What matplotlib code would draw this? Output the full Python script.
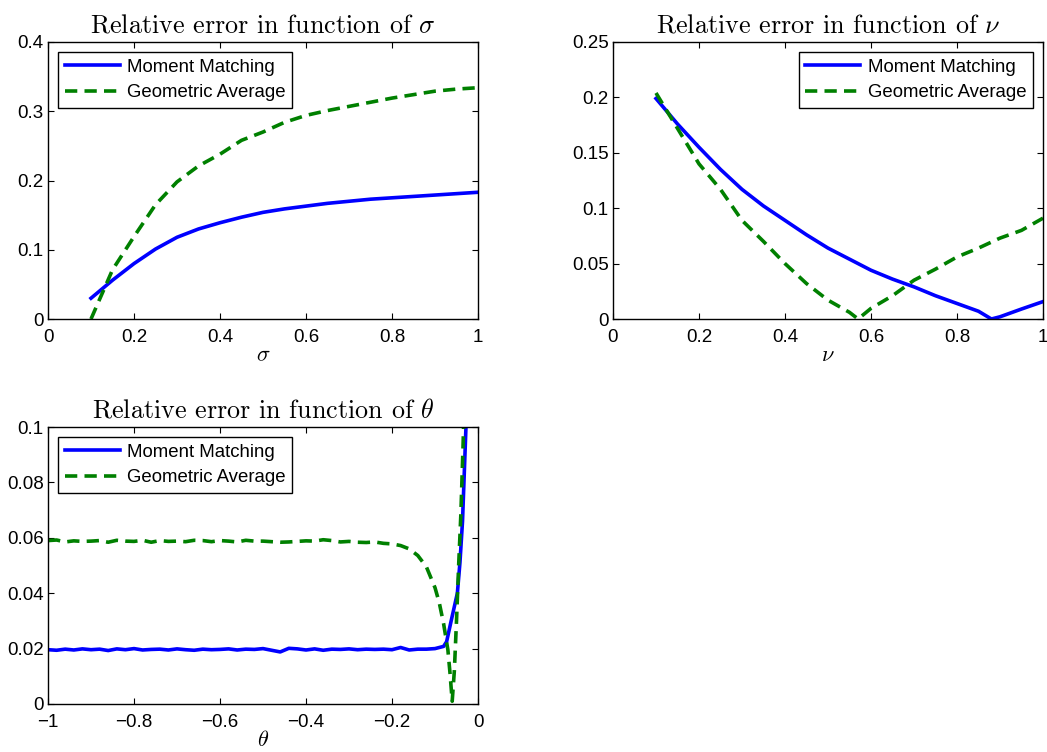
import matplotlib
matplotlib.use("Agg")
import matplotlib.pyplot as plt

# sigma panel
sigma = [0.10, 0.15, 0.20, 0.25, 0.30, 0.35, 0.40, 0.45, 0.50, 0.55,
         0.60, 0.65, 0.70, 0.75, 0.80, 0.85, 0.90, 0.95, 1.00]
sigma_mm = [0.030, 0.056, 0.080, 0.101, 0.118, 0.130, 0.139, 0.147, 0.154, 0.159,
            0.163, 0.167, 0.170, 0.173, 0.175, 0.177, 0.179, 0.181, 0.183]
sigma_ga = [0.000, 0.071, 0.119, 0.165, 0.198, 0.221, 0.238, 0.258, 0.270, 0.284,
            0.294, 0.301, 0.307, 0.313, 0.319, 0.324, 0.329, 0.332, 0.334]

# nu panel
nu_mm_x = [0.10, 0.15, 0.20, 0.25, 0.30, 0.35, 0.40, 0.45, 0.50, 0.55,
           0.60, 0.65, 0.70, 0.75, 0.80, 0.85, 0.88, 0.90, 0.95, 1.00]
nu_mm = [0.199, 0.176, 0.155, 0.135, 0.117, 0.102, 0.089, 0.076, 0.064, 0.054,
         0.044, 0.036, 0.029, 0.021, 0.014, 0.007, 0.000, 0.002, 0.009, 0.0157]
nu_ga_x = [0.10, 0.15, 0.20, 0.25, 0.30, 0.35, 0.40, 0.45, 0.50, 0.55,
           0.57, 0.60, 0.65, 0.70, 0.75, 0.80, 0.85, 0.90, 0.95, 1.00]
nu_ga = [0.204, 0.172, 0.140, 0.117, 0.089, 0.070, 0.050, 0.032, 0.017, 0.006,
         0.000, 0.0096, 0.021, 0.035, 0.045, 0.056, 0.064, 0.073, 0.080, 0.091]

# theta panel
theta_mm_x = [-1.00, -0.98, -0.96, -0.94, -0.92, -0.90, -0.88, -0.86, -0.84, -0.82,
              -0.80, -0.78, -0.76, -0.74, -0.72, -0.70, -0.68, -0.66, -0.64, -0.62,
              -0.60, -0.58, -0.56, -0.54, -0.52, -0.50, -0.48, -0.46, -0.44, -0.42,
              -0.40, -0.38, -0.36, -0.34, -0.32, -0.30, -0.28, -0.26, -0.24, -0.22,
              -0.20, -0.18, -0.16, -0.14, -0.12, -0.10, -0.08,
              -0.073, -0.061, -0.048, -0.042, -0.036, -0.028, -0.020]
theta_mm = [0.0196, 0.0194, 0.0198, 0.0195, 0.0199, 0.0196, 0.0198, 0.0193, 0.0199, 0.0196,
            0.0200, 0.0195, 0.0197, 0.0198, 0.0195, 0.0199, 0.0196, 0.0194, 0.0198, 0.0196,
            0.0197, 0.0199, 0.0195, 0.0198, 0.0197, 0.0200, 0.0194, 0.0188, 0.0201, 0.0199,
            0.0195, 0.0199, 0.0194, 0.0198, 0.0197, 0.0199, 0.0196, 0.0198, 0.0197, 0.0198,
            0.0196, 0.0204, 0.0195, 0.0198, 0.0198, 0.0200, 0.0208,
            0.0225, 0.0310, 0.0400, 0.0510, 0.0660, 0.1000, 0.1350]
theta_ga_x = [-1.00, -0.98, -0.96, -0.94, -0.92, -0.90, -0.88, -0.86, -0.84, -0.82,
              -0.80, -0.78, -0.76, -0.74, -0.72, -0.70, -0.68, -0.66, -0.64, -0.62,
              -0.60, -0.58, -0.56, -0.54, -0.52, -0.50, -0.48, -0.46, -0.44, -0.42,
              -0.40, -0.38, -0.36, -0.34, -0.32, -0.30, -0.28, -0.26, -0.24, -0.22,
              -0.20, -0.18, -0.16, -0.14, -0.12, -0.10, -0.09, -0.08, -0.07, -0.065,
              -0.06, -0.055, -0.05, -0.045, -0.04, -0.035, -0.03]
theta_ga = [0.0590, 0.0592, 0.0585, 0.0589, 0.0587, 0.0588, 0.0590, 0.0584, 0.0591, 0.0588,
            0.0587, 0.0591, 0.0584, 0.0590, 0.0587, 0.0588, 0.0586, 0.0591, 0.0590, 0.0586,
            0.0590, 0.0588, 0.0585, 0.0591, 0.0588, 0.0588, 0.0586, 0.0584, 0.0585, 0.0587,
            0.0589, 0.0588, 0.0593, 0.0590, 0.0585, 0.0587, 0.0584, 0.0583, 0.0585, 0.0580,
            0.0578, 0.0572, 0.0560, 0.0536, 0.0495, 0.0420, 0.0365, 0.0290, 0.0195, 0.0110,
            0.0010, 0.0120, 0.0300, 0.0500, 0.0680, 0.0920, 0.1200]

plt.rcParams["font.family"] = "Liberation Sans"
plt.rcParams["mathtext.fontset"] = "cm"
plt.rcParams["font.size"] = 13.5

BLUE = "#0000ff"
GREEN = "#008000"

fig = plt.figure(figsize=(10.47, 7.52), dpi=100)
W, H = 1047, 752
def px_axes(l, t, r, b):
    return fig.add_axes([l / W, 1 - b / H, (r - l) / W, (b - t) / H])

ax1 = px_axes(48, 42, 478, 319)
ax2 = px_axes(613, 42, 1043, 319)
ax3 = px_axes(48, 427, 478, 704)

panels = [
    (ax1, sigma, sigma_mm, sigma, sigma_ga, (0, 1), (0, 0.4),
     [0, 0.2, 0.4, 0.6, 0.8, 1], [0, 0.1, 0.2, 0.3, 0.4], r"\sigma", "upper left"),
    (ax2, nu_mm_x, nu_mm, nu_ga_x, nu_ga, (0, 1), (0, 0.25),
     [0, 0.2, 0.4, 0.6, 0.8, 1], [0, 0.05, 0.1, 0.15, 0.2, 0.25], r"\nu", "upper right"),
    (ax3, theta_mm_x, theta_mm, theta_ga_x, theta_ga, (-1, 0), (0, 0.1),
     [-1, -0.8, -0.6, -0.4, -0.2, 0], [0, 0.02, 0.04, 0.06, 0.08, 0.1], r"\theta", "upper left"),
]

for ax, xm, ym, xg, yg, xl, yl, xt, yt, sym, loc in panels:
    ax.plot(xm, ym, color=BLUE, lw=2.6, label="Moment Matching")
    ax.plot(xg, yg, color=GREEN, lw=2.6, dashes=(3.4, 2.0), label="Geometric Average")
    ax.set_xlim(*xl)
    ax.set_ylim(*yl)
    ax.set_xticks(xt)
    ax.set_yticks(yt)
    ax.set_xticklabels([("%g" % v).replace("-", "\u2212") for v in xt])
    ax.set_yticklabels(["%g" % v for v in yt])
    ax.tick_params(direction="in", top=True, right=True, length=4, width=0.8)
    ax.tick_params(axis="x", pad=7.5)
    ax.tick_params(axis="y", pad=3)
    for s in ax.spines.values():
        s.set_linewidth(1.0)
    ax.set_title("Relative error in function of $" + sym + "$",
                 family="cmr10", fontsize=18.8, pad=7)
    ax.set_xlabel("$" + sym + "$", fontsize=16, labelpad=-1)
    leg = ax.legend(loc=loc, fontsize=13.4, handlelength=2.95, fancybox=False,
                    edgecolor="black", framealpha=1, borderaxespad=0.55,
                    labelspacing=0.45, handletextpad=0.4, borderpad=0.35)
    leg.get_frame().set_linewidth(1.0)

fig.savefig("out.png", dpi=100)
